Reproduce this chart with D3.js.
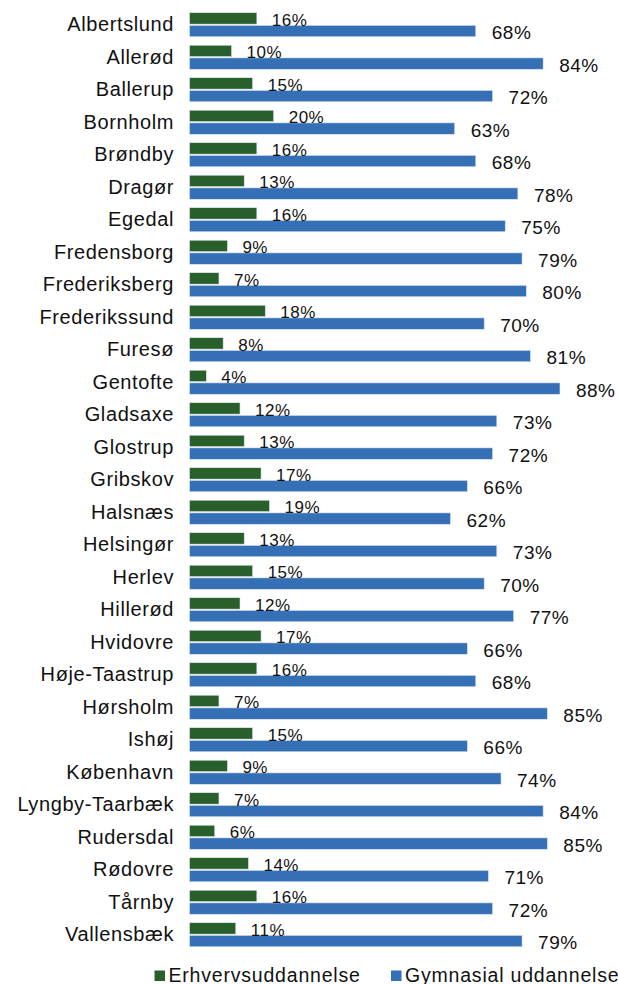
<!DOCTYPE html>
<head>
  <meta charset="utf-8">
  <script src="https://d3js.org/d3.v7.min.js"></script>
  <style>
    body { margin:0; background:#fff; }
    text { font-family: "Liberation Sans", Arial, sans-serif; fill:#111; }
  </style>
</head>
<body>
<svg width="618" height="984" id="vis"></svg>
<script>
var kommuner = ["Albertslund","Allerød","Ballerup","Bornholm","Brøndby","Dragør","Egedal","Fredensborg",
  "Frederiksberg","Frederikssund","Furesø","Gentofte","Gladsaxe","Glostrup","Gribskov","Halsnæs",
  "Helsingør","Herlev","Hillerød","Hvidovre","Høje-Taastrup","Hørsholm","Ishøj","København",
  "Lyngby-Taarbæk","Rudersdal","Rødovre","Tårnby","Vallensbæk"];
var erhverv =   [16,10,15,20,16,13,16, 9, 7,18, 8, 4,12,13,17,19,13,15,12,17,16, 7,15, 9, 7, 6,14,16,11];
var gymnasial = [68,84,72,63,68,78,75,79,80,70,81,88,73,72,66,62,73,70,77,66,68,85,66,74,84,85,71,72,79];
var serier = ["Erhvervsuddannelse","Gymnasial uddannelse"];
var farver = ["#285f2b","#356fb5"];

var svg = d3.select("#vis");

var data = kommuner.map(function(k, i) {
  return {navn: k, vals: [erhverv[i], gymnasial[i]]};
});

var y0 = d3.scaleBand().domain(kommuner).range([8.5, 951]).paddingInner(0.26).paddingOuter(0.13);
var y1 = d3.scaleBand().domain([0, 1]).range([0, y0.bandwidth()]).paddingInner(0.1);
var x = d3.scaleLinear().domain([0, 100]).range([189.5, 610.5]);

// category labels
svg.append("g")
  .attr("transform", "translate(174,0)")
  .call(d3.axisLeft(y0).tickSize(0).tickPadding(0))
  .call(function(g) { g.select(".domain").remove(); })
  .selectAll("text")
    .style("font-size", "20px")
    .style("letter-spacing", "0.6px")
    .style("font-family", "'Liberation Sans', Arial, sans-serif")
    .attr("fill", "#111");

var grp = svg.selectAll("g.grp").data(data).enter().append("g")
  .attr("class", "grp")
  .attr("transform", function(d) { return "translate(0," + y0(d.navn) + ")"; });

grp.selectAll("rect").data(function(d) { return d.vals; }).enter().append("rect")
  .attr("x", x(0))
  .attr("y", function(v, j) { return y1(j); })
  .attr("width", function(v) { return x(v) - x(0); })
  .attr("height", y1.bandwidth())
  .attr("fill", function(v, j) { return farver[j]; })
  .attr("stroke", "#dfe7f1")
  .attr("stroke-width", 0.6);

grp.selectAll("text.val").data(function(d) { return d.vals; }).enter().append("text")
  .attr("class", "val")
  .attr("x", function(v, j) { return x(v) + (j == 0 ? 15 : 16); })
  .attr("y", function(v, j) { return y1(j) + y1.bandwidth() / 2 + (j == 0 ? 7.5 : 8); })
  .style("font-size", function(v, j) { return j == 0 ? "17px" : "19px"; })
  .style("letter-spacing", "0.5px")
  .text(function(v) { return v + "%"; });

// legend
var leg = svg.append("g");
var legX = [154.5, 391];
serier.forEach(function(s, i) {
  leg.append("rect")
    .attr("x", legX[i]).attr("y", 970.5)
    .attr("width", 10.5).attr("height", 10.5)
    .attr("fill", farver[i]);
  leg.append("text")
    .attr("x", legX[i] + 14).attr("y", 981.5)
    .style("font-size", "19.5px")
    .style("letter-spacing", "0.8px")
    .text(s);
});
</script>
</body>
